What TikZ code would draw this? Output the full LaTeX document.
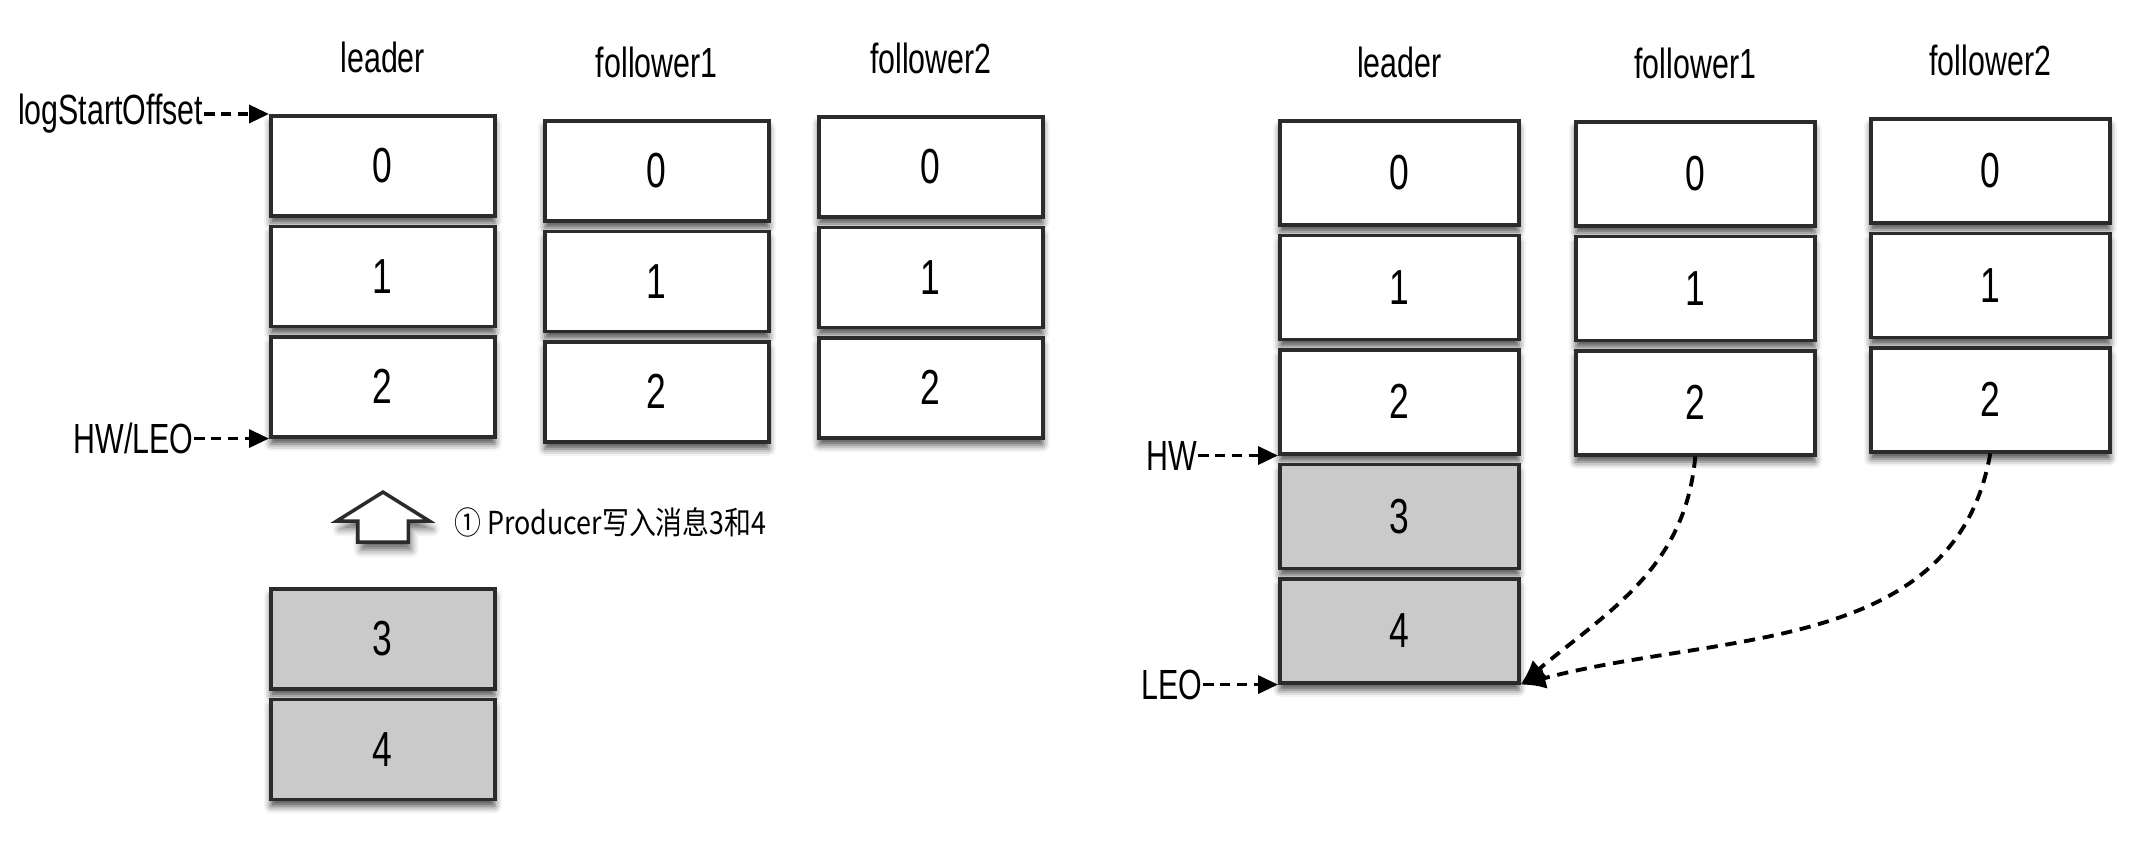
\documentclass[tikz,border=0pt]{standalone}
\usepackage{fontspec}
\setmainfont{Liberation Sans}[FakeStretch=0.72]
\newfontfamily\cjk{Noto Sans CJK SC}[FakeStretch=0.85]
\usetikzlibrary{arrows.meta,positioning,shapes.arrows,shadows.blur}
\definecolor{edge}{HTML}{2B2B2B}
\definecolor{newmsg}{HTML}{CACACA}
\tikzset{
  cell/.style={draw=edge, line width=1pt, fill=white, minimum width=22.4mm,
    minimum height=10mm, inner sep=0pt, font=\fontsize{14}{16}\selectfont,
    blur shadow={shadow xshift=0mm, shadow yshift=-0.7mm,
      shadow blur radius=0.7mm, shadow opacity=70}},
  wide/.style={cell, minimum width=23.9mm, minimum height=10.4mm},
  fresh/.style={fill=newmsg},
  head/.style={font=\fontsize{12}{14}\selectfont, inner sep=1pt},
  ptr/.style={font=\fontsize{12}{14}\selectfont, inner sep=0pt},
  ptrline/.style={dash pattern=on 3pt off 1.8pt, line width=1pt,
    -{Triangle[length=2mm, width=1.8mm]}},
  fetch/.style={dash pattern=on 3.2pt off 2.2pt, line width=1.1pt,
    -{Latex[length=2.5mm, width=2.2mm]}},
  uparrow/.style={single arrow, draw=edge, line width=1pt, fill=white,
    shape border rotate=90, inner xsep=2.35mm, inner ysep=0pt,
    minimum height=5mm, minimum width=8.9mm, single arrow head extend=2.1mm,
    single arrow tip angle=116,
    blur shadow={shadow xshift=0.3mm, shadow yshift=-0.8mm, shadow opacity=60}},
}

\begin{document}
\begin{tikzpicture}[node distance=0.7mm]
  \useasboundingbox (0,0) rectangle (21.41,-8.46);
  % before: producer appends 3 and 4
  \node[cell, anchor=north west] (l0) at (2.69,-1.14) {0};
  \node[cell, below=of l0] (l1) {1};
  \node[cell, below=of l1] (l2) {2};
  \node[cell, anchor=north west] (f0) at (5.43,-1.19) {0};
  \node[cell, below=of f0] (f1) {1};
  \node[cell, below=of f1] (f2) {2};
  \node[cell, anchor=north west] (g0) at (8.17,-1.15) {0};
  \node[cell, below=of g0] (g1) {1};
  \node[cell, below=of g1] (g2) {2};
  \node[head, above=3.7mm of l0] (lh) {leader};
  \node[head, above=3.7mm of f0] (fh) {follower1};
  \node[head, above=3.7mm of g0] (gh) {follower2};
  \node[ptr, left=6.5mm of l0.north west] (lso) {logStartOffset};
  \node[ptr, left=7.5mm of l2.south west] (hwleo) {HW/LEO};
  \draw[ptrline] (lso) -- (l0.north west);
  \draw[ptrline] (hwleo) -- (l2.south west);
  \node[uparrow] (push) at (3.83,-5.25) {};
  \node[anchor=west, font=\cjk\fontsize{9}{11}\selectfont] (note) at (4.42,-5.22)
    {① Producer写入消息3和4};
  \node[cell, fresh, anchor=north west] (l3) at (2.69,-5.87) {3};
  \node[cell, fresh, below=of l3] (l4) {4};

  % after: followers fetch from the leader
  \node[wide, anchor=north west] (L0) at (12.78,-1.19) {0};
  \node[wide, below=of L0] (L1) {1};
  \node[wide, below=of L1] (L2) {2};
  \node[wide, fresh, below=of L2] (L3) {3};
  \node[wide, fresh, below=of L3] (L4) {4};
  \node[wide, anchor=north west] (F0) at (15.74,-1.20) {0};
  \node[wide, below=of F0] (F1) {1};
  \node[wide, below=of F1] (F2) {2};
  \node[wide, anchor=north west] (G0) at (18.69,-1.17) {0};
  \node[wide, below=of G0] (G1) {1};
  \node[wide, below=of G1] (G2) {2};
  \node[head, above=3.7mm of L0] (Lh) {leader};
  \node[head, above=3.7mm of F0] (Fh) {follower1};
  \node[head, above=3.7mm of G0] (Gh) {follower2};
  \node[ptr, left=8mm of L2.south west] (hw) {HW};
  \node[ptr, left=7.5mm of L4.south west] (leo) {LEO};
  \foreach \x/\y in {hw/L2, leo/L4} \draw[ptrline] (\x) -- (\y.south west);
  \draw[fetch] (F2.south) to[out=-95, in=40] (L4.south east);
  \draw[fetch] (G2.south) to[out=-100, in=15] (L4.south east);
\end{tikzpicture}
\end{document}
